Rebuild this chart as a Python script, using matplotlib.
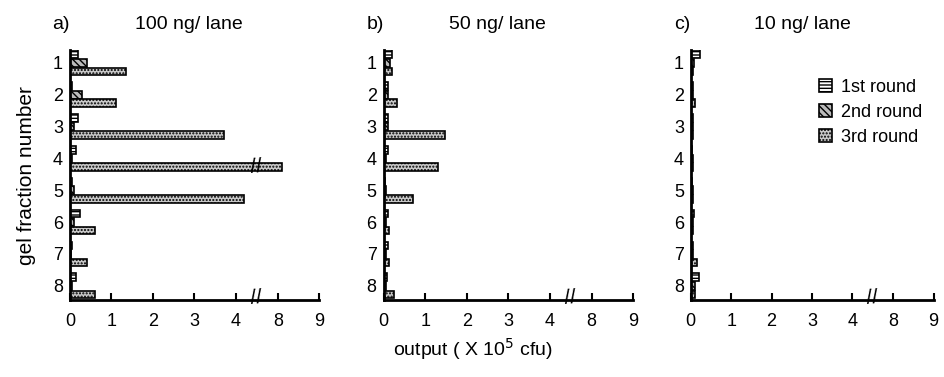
import numpy as np
import matplotlib.pyplot as plt

plt.rcParams['font.family'] = ['Liberation Sans', 'DejaVu Sans']

fractions = [1, 2, 3, 4, 5, 6, 7, 8]
rounds = ['1st round', '2nd round', '3rd round']
titles = ['100 ng/ lane', '50 ng/ lane', '10 ng/ lane']
letters = ['a)', 'b)', 'c)']

# output (x 10^5 cfu) per gel fraction
a_1st = [0.2, 0.05, 0.2, 0.15, 0.05, 0.25, 0.05, 0.15]
a_2nd = [0.4, 0.3, 0.1, 0.05, 0.1, 0.1, 0.02, 0.05]
a_3rd = [1.35, 1.1, 3.7, 8.1, 4.2, 0.6, 0.4, 0.6]

b_1st = [0.2, 0.1, 0.1, 0.1, 0.03, 0.1, 0.1, 0.08]
b_2nd = [0.15, 0.1, 0.1, 0.05, 0.05, 0.05, 0.05, 0.05]
b_3rd = [0.2, 0.33, 1.47, 1.3, 0.7, 0.12, 0.12, 0.24]

c_1st = [0.22, 0.05, 0.05, 0.04, 0.04, 0.08, 0.05, 0.2]
c_2nd = [0.08, 0.06, 0.06, 0.05, 0.05, 0.06, 0.05, 0.1]
c_3rd = [0.05, 0.1, 0.06, 0.06, 0.06, 0.06, 0.15, 0.1]

panels = [(a_1st, a_2nd, a_3rd), (b_1st, b_2nd, b_3rd), (c_1st, c_2nd, c_3rd)]

xticks = [0, 1, 2, 3, 4, 8, 9]


# broken axis: 4.5 .. 7.5 squeezed to almost nothing
def fwd(v):
    v = np.asarray(v, dtype=float)
    return np.where(v <= 4.5, v,
                    np.where(v < 7.5, 4.5 + (v - 4.5) * 0.01 / 3, v - 2.99))


def inv(u):
    u = np.asarray(u, dtype=float)
    return np.where(u <= 4.5, u,
                    np.where(u < 4.51, 4.5 + (u - 4.5) * 300, u + 2.99))


hatches = ['-----', '\\\\\\\\\\', '.....']
faces = ['white', '#bbbbbb', '#c8c8c8']

fig = plt.figure(figsize=(9.45, 3.77), dpi=100)
lefts = [0.074, 0.406, 0.731]
widths = [0.264, 0.264, 0.257]
off = [-0.27, 0.0, 0.27]
y = np.array(fractions)

for i, (vals, l, w) in enumerate(zip(panels, lefts, widths)):
    ax = fig.add_axes([l, 0.204, w, 0.663])
    ax.set_xscale('function', functions=(fwd, inv))
    for k in range(3):
        ax.barh(y + off[k], vals[k], height=0.24, left=0, color=faces[k],
                edgecolor='black', linewidth=1.2, hatch=hatches[k], label=rounds[k])
    ax.set_xlim(0, 9)
    ax.set_ylim(8.45, 0.6)
    ax.set_xticks(xticks)
    ax.set_xticklabels([str(t) for t in xticks], fontsize=13)
    ax.set_yticks(fractions)
    ax.set_yticklabels([str(f) for f in fractions], fontsize=13)
    ax.tick_params(axis='x', direction='in', length=5, width=1.5, pad=9)
    ax.tick_params(axis='y', length=0, pad=5)
    for s in ['top', 'right']:
        ax.spines[s].set_visible(False)
    for s in ['left', 'bottom']:
        ax.spines[s].set_linewidth(2)
    # break marks on the axis
    ax.text(4.5, 0.01, '//', transform=ax.get_xaxis_transform(), ha='center', va='center',
            fontsize=15, rotation=5)
    ax.text(-0.07, 1.07, letters[i], transform=ax.transAxes, fontsize=14, va='bottom')
    ax.text(0.26, 1.07, titles[i], transform=ax.transAxes, fontsize=14, va='bottom')
    if i == 0:
        ax.text(4.5, 4.27, '//', ha='center', va='center', fontsize=15, rotation=5)
        ax.set_ylabel('gel fraction number', fontsize=15, labelpad=12)
    if i == 2:
        ax.legend(loc='upper right', bbox_to_anchor=(1.02, 0.95), frameon=False,
                  fontsize=13, handlelength=0.7, handleheight=0.7, handletextpad=0.5,
                  labelspacing=0.45)

fig.text(0.5, 0.055, 'output ( X 10$^5$ cfu)', ha='center', fontsize=14)

fig.savefig('out.png', dpi=100)
